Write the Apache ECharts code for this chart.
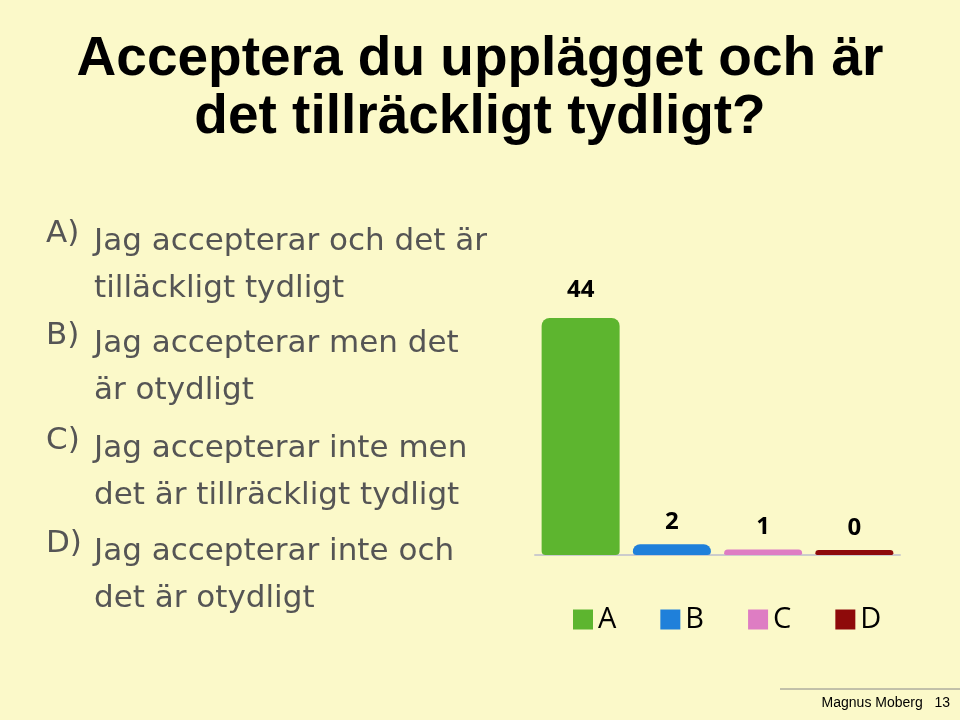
<!DOCTYPE html><html><head><meta charset="utf-8">
<script src="https://cdn.jsdelivr.net/npm/echarts@6/dist/echarts.min.js"></script>
<style>html,body{margin:0;background:#FBF9C9}#c{width:960px;height:720px}</style></head><body><div id="c"></div>
<script>
const categories=['A','B','C','D'];
const values=[44,2,1,0];
const colors=['#5DB52F','#1F80DA','#DE7DC3','#8E0A0A'];
const titleLines=['Acceptera du upplägget och är','det tillräckligt tydligt?'];
const options=[['A)','Jag accepterar och det är','tilläckligt tydligt'],['B)','Jag accepterar men det','är otydligt'],['C)','Jag accepterar inte men','det är tillräckligt tydligt'],['D)','Jag accepterar inte och','det är otydligt']];
const optY=[238,340,445,548];
const ch=echarts.init(document.getElementById('c'));
const graphic=[];
titleLines.forEach((t,i)=>graphic.push({type:'text',left:'center',top:32+i*58,style:{text:t,font:'bold 55px "Liberation Sans", Arial',fill:'#000'}}));
options.forEach((o,i)=>{
 graphic.push({type:'text',left:46,top:optY[i]-20,style:{text:o[0],font:'31px "DejaVu Sans"',fill:'#555'}});
 graphic.push({type:'text',left:94,top:optY[i]-20,style:{text:o[1]+'\n'+o[2],font:'31px "DejaVu Sans"',fill:'#555',lineHeight:47}});
});
graphic.push({type:'line',shape:{x1:780,y1:689,x2:960,y2:689},style:{stroke:'#888',lineWidth:1}});
graphic.push({type:'text',right:10,top:696,style:{text:'Magnus Moberg   13',font:'14px "Liberation Sans"',fill:'#000'}});
ch.setOption({
 backgroundColor:'#FBF9C9',animation:false,graphic,
 legend:{data:categories,left:568,top:600,itemWidth:20,itemHeight:20,itemGap:44,icon:'rect',textStyle:{fontSize:29,fontFamily:'Open Sans',color:'#000'}},
 grid:{left:535,right:60,top:318,bottom:165},
 xAxis:{type:'category',data:categories,axisLabel:{show:false},axisTick:{show:false},axisLine:{lineStyle:{color:'#ccc',width:2}}},
 yAxis:{type:'value',min:0,max:44,show:false},
 series:categories.map((c,i)=>({name:c,type:'bar',barGap:'-100%',barWidth:78,barMinHeight:5,
  itemStyle:{color:colors[i],borderRadius:[8,8,4,4]},
  label:{show:true,position:'top',distance:i==0?16:10,fontSize:24,fontFamily:'Open Sans',fontWeight:'bold',color:'#000'},
  data:values.map((v,j)=>j===i?v:'-')}))
});
</script></body></html>
